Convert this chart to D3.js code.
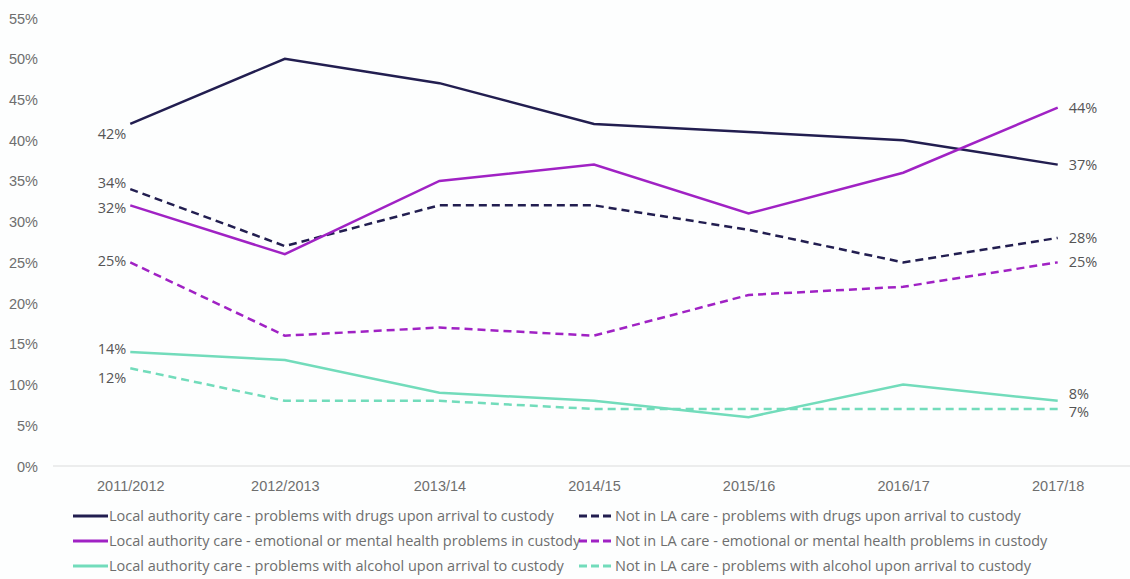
<!DOCTYPE html>
<html><head><meta charset="utf-8">
<script src="https://cdn.jsdelivr.net/npm/d3@7"></script>
<style>
html,body{margin:0;padding:0;background:#fdfefe;}
svg{display:block;font-family:"Open Sans","Liberation Sans",Arial,sans-serif;}
</style></head>
<body><svg id="c" width="1130" height="579"></svg>
<script>
const years = ["2011/2012","2012/2013","2013/14","2014/15","2015/16","2016/17","2017/18"];
const yTicks = [0,5,10,15,20,25,30,35,40,45,50,55];
const laDrugs = [42,50,47,42,41,40,37];
const notLaDrugs = [34,27,32,32,29,25,28];
const laEmotional = [32,26,35,37,31,36,44];
const notLaEmotional = [25,16,17,16,21,22,25];
const laAlcohol = [14,13,9,8,6,10,8];
const notLaAlcohol = [12,8,8,7,7,7,7];
const seriesNames = [
 "Local authority care - problems with drugs upon arrival to custody",
 "Not in LA care - problems with drugs upon arrival to custody",
 "Local authority care - emotional or mental health problems in custody",
 "Not in LA care - emotional or mental health problems in custody",
 "Local authority care - problems with alcohol upon arrival to custody",
 "Not in LA care - problems with alcohol upon arrival to custody"
];
const seriesValues = [laDrugs, notLaDrugs, laEmotional, notLaEmotional, laAlcohol, notLaAlcohol];

const colors = ["#221e50","#221e50","#a022c4","#a022c4","#72dcbb","#72dcbb"];
const dashed = [false,true,false,true,false,true];
// label vertical nudges (px) to avoid overlap, start and end
const startDy = [10,-6,3,-1,-3,10];
const endDy = [0,0,0,0,-7,3];

const svg = d3.select("#c");
const x = d3.scalePoint().domain(years).range([53,1135]).padding(0.5);
const y = d3.scaleLinear().domain([0,55]).range([466,18]);
const FS = "14.5px";

const yAxis = d3.axisLeft(y).tickValues(yTicks).tickFormat(d=>d+"%").tickSize(0).tickPadding(0);
const gy = svg.append("g").attr("transform","translate(38,0)").call(yAxis);
gy.select(".domain").remove();
gy.selectAll("text").attr("fill","#6e6e6e").style("font-size",FS).attr("dy","0.35em");

const xAxis = d3.axisBottom(x).tickSize(0).tickPadding(15);
const gx = svg.append("g").attr("transform","translate(0,466)").call(xAxis);
gx.select(".domain").attr("stroke","#dcdcdc").attr("stroke-width",1.2).attr("d","M53,0H1130");
gx.selectAll("text").attr("fill","#6e6e6e").style("font-size",FS);

const line = d3.line().x((d,i)=>x(years[i])).y(d=>y(d));

seriesValues.forEach((vals,k)=>{
  svg.append("path").datum(vals)
    .attr("fill","none").attr("stroke",colors[k]).attr("stroke-width",2.5)
    .attr("stroke-dasharray",dashed[k]?"8,5":null)
    .attr("d",line);
  svg.append("text").attr("x",x(years[0])-4).attr("y",y(vals[0])+startDy[k]).attr("dy","0.35em")
    .attr("text-anchor","end").attr("fill","#555").style("font-size",FS).text(vals[0]+"%");
  const n=vals.length-1;
  svg.append("text").attr("x",x(years[n])+11).attr("y",y(vals[n])+endDy[k]).attr("dy","0.35em")
    .attr("text-anchor","start").attr("fill","#555").style("font-size",FS).text(vals[n]+"%");
});

const leg = svg.append("g");
seriesNames.forEach((name,k)=>{
  const col = k%2, row = Math.floor(k/2);
  const lx = col===0?73:579, ly = 516+row*25;
  leg.append("line").attr("x1",lx).attr("x2",lx+35).attr("y1",ly).attr("y2",ly)
    .attr("stroke",colors[k]).attr("stroke-width",3)
    .attr("stroke-dasharray",dashed[k]?"8,4":null);
  leg.append("text").attr("x",lx+36).attr("y",ly).attr("dy","0.35em")
    .attr("fill","#6e6e6e").style("font-size",FS).text(name);
});
</script></body></html>
